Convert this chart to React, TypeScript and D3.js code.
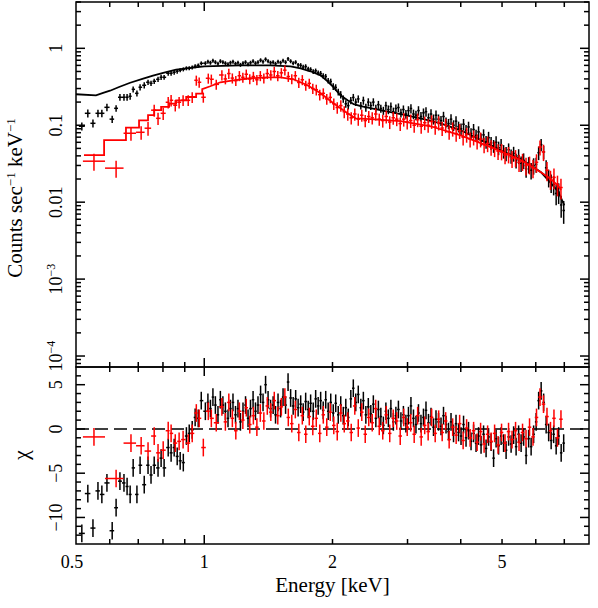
import React from "react";
import * as d3 from "d3";

// ---------------- data ----------------
const blackE = [
  0.516, 0.533, 0.548, 0.563, 0.575, 0.591, 0.608, 0.621, 0.634, 0.648, 0.659, 0.670, 0.681, 0.695, 0.707, 0.723, 0.738,
  0.750, 0.763, 0.779, 0.792, 0.805, 0.823, 0.836, 0.850, 0.864, 0.878, 0.893, 0.908, 0.922, 0.937, 0.952, 0.968, 0.984,
  1.006, 1.020, 1.034, 1.048, 1.062, 1.077, 1.091, 1.106, 1.121, 1.137,
  1.152, 1.168, 1.184, 1.200, 1.216, 1.233, 1.250, 1.267, 1.284, 1.302,
  1.319, 1.337, 1.356, 1.374, 1.393, 1.412, 1.431, 1.451, 1.470, 1.490,
  1.511, 1.531, 1.552, 1.573, 1.595, 1.617, 1.639, 1.661, 1.684, 1.707,
  1.730, 1.754, 1.777, 1.802, 1.826, 1.851, 1.876, 1.902, 1.928, 1.954,
  1.981, 2.008, 2.035, 2.063, 2.091, 2.120, 2.149, 2.178, 2.208, 2.238,
  2.268, 2.299, 2.331, 2.363, 2.395, 2.427, 2.460, 2.494, 2.528, 2.563,
  2.597, 2.633, 2.669, 2.705, 2.742, 2.779, 2.817, 2.856, 2.895, 2.934,
  2.974, 3.015, 3.056, 3.098, 3.140, 3.183, 3.226, 3.270, 3.315, 3.360,
  3.406, 3.452, 3.499, 3.547, 3.595, 3.644, 3.694, 3.744, 3.795, 3.847,
  3.899, 3.953, 4.006, 4.061, 4.116, 4.172, 4.229, 4.287, 4.345, 4.404,
  4.464, 4.525, 4.587, 4.649, 4.713, 4.777, 4.842, 4.908, 4.975, 5.042,
  5.111, 5.181, 5.251, 5.323, 5.395, 5.469, 5.543, 5.619, 5.695, 5.773,
  5.851, 5.931, 6.012, 6.094, 6.177, 6.261, 6.346, 6.433, 6.520, 6.609,
  6.699, 6.790, 6.883, 6.977,
];
const blackFlux = [
  0.097, 0.143, 0.106, 0.143, 0.143, 0.171, 0.12, 0.166, 0.231, 0.231, 0.231, 0.238, 0.293, 0.26, 0.312, 0.331, 0.362,
  0.351, 0.373, 0.396, 0.42, 0.42, 0.474, 0.474, 0.488, 0.503, 0.518, 0.533, 0.55, 0.55, 0.566, 0.584, 0.6, 0.638,
  0.64, 0.67, 0.65, 0.69, 0.66, 0.63, 0.68, 0.66, 0.64, 0.62,
  0.65, 0.67, 0.63, 0.65, 0.61, 0.64, 0.66, 0.62, 0.65, 0.68,
  0.64, 0.66, 0.70, 0.67, 0.72, 0.68, 0.65, 0.66, 0.63, 0.67,
  0.65, 0.69, 0.66, 0.73, 0.68, 0.64, 0.66, 0.61, 0.60, 0.57,
  0.58, 0.54, 0.53, 0.50, 0.51, 0.48, 0.47, 0.44, 0.43, 0.38,
  0.37, 0.32, 0.31, 0.27, 0.25, 0.22, 0.19, 0.18, 0.21, 0.23,
  0.20, 0.22, 0.18, 0.21, 0.17, 0.20, 0.18, 0.20, 0.165, 0.185,
  0.165, 0.155, 0.18, 0.16, 0.175, 0.15, 0.165, 0.17, 0.145, 0.16,
  0.14, 0.155, 0.165, 0.14, 0.135, 0.155, 0.13, 0.145, 0.15, 0.125,
  0.14, 0.12, 0.135, 0.12, 0.115, 0.13, 0.11, 0.105, 0.12, 0.1,
  0.113, 0.096, 0.09, 0.103, 0.086, 0.095, 0.078, 0.088, 0.074, 0.082,
  0.066, 0.075, 0.061, 0.069, 0.059, 0.054, 0.06, 0.051, 0.055, 0.046,
  0.043, 0.048, 0.04, 0.043, 0.035, 0.04, 0.032, 0.035, 0.027, 0.031,
  0.026, 0.03, 0.031, 0.044, 0.056, 0.045, 0.028, 0.021, 0.018, 0.017,
  0.013, 0.0135, 0.0092, 0.0078,
];
const blackErr = [
  0.12, 0.12, 0.12, 0.11, 0.11, 0.11, 0.11, 0.1, 0.1, 0.1, 0.1, 0.1, 0.09, 0.09, 0.09, 0.09, 0.08,
  0.08, 0.08, 0.08, 0.08, 0.07, 0.07, 0.07, 0.07, 0.07, 0.06, 0.06, 0.06, 0.06, 0.06, 0.06, 0.06, 0.06,
  0.06, 0.06, 0.06, 0.06, 0.06, 0.06, 0.06, 0.06, 0.06, 0.06,
  0.06, 0.06, 0.06, 0.06, 0.06, 0.06, 0.06, 0.06, 0.06, 0.06,
  0.06, 0.06, 0.06, 0.06, 0.06, 0.06, 0.06, 0.06, 0.06, 0.06,
  0.06, 0.06, 0.06, 0.06, 0.06, 0.06, 0.06, 0.06, 0.07, 0.07,
  0.07, 0.07, 0.07, 0.07, 0.07, 0.07, 0.08, 0.08, 0.08, 0.08,
  0.09, 0.1, 0.1, 0.1, 0.11, 0.11, 0.11, 0.11, 0.11, 0.11,
  0.11, 0.11, 0.11, 0.12, 0.12, 0.12, 0.12, 0.12, 0.12, 0.12,
  0.12, 0.12, 0.12, 0.13, 0.13, 0.13, 0.13, 0.13, 0.13, 0.13,
  0.13, 0.14, 0.14, 0.14, 0.14, 0.14, 0.14, 0.14, 0.14, 0.14,
  0.15, 0.15, 0.15, 0.15, 0.15, 0.15, 0.15, 0.15, 0.16, 0.16,
  0.16, 0.16, 0.17, 0.17, 0.17, 0.17, 0.17, 0.18, 0.18, 0.18,
  0.18, 0.18, 0.19, 0.19, 0.19, 0.19, 0.2, 0.2, 0.2, 0.2,
  0.21, 0.21, 0.21, 0.22, 0.22, 0.22, 0.23, 0.23, 0.23, 0.24,
  0.24, 0.24, 0.22, 0.2, 0.18, 0.2, 0.25, 0.26, 0.27, 0.28,
  0.3, 0.3, 0.32, 0.33,
];
const blackChi = [
  -11.8, -7.3, -11.2, -7.0, -7.4, -6.1, -11.5, -8.9, -5.9, -6.1, -6.5, -7.4, -4.4, -7.4, -4.1, -6.3, -4.1,
  -5.2, -4.1, -4.4, -3.3, -4.4, -2.1, -2.7, -2.1, -3.1, -3.6, -3.8, -0.8, -0.5, -0.1, 1.3, 1.2, 3.2,
  2.0, 3.0, 2.3, 3.6, 2.7, 1.6, 3.3, 2.7, 2.0, 1.2,
  2.3, 3.0, 1.6, 2.3, 0.8, 2.0, 2.7, 1.2, 2.3, 3.3,
  2.0, 2.7, 3.9, 3.0, 5.0, 3.3, 2.3, 2.7, 1.6, 3.0,
  2.3, 3.6, 2.7, 5.3, 3.5, 2.6, 3.4, 2.4, 2.8, 1.9,
  3.1, 2.2, 2.9, 2.0, 3.4, 2.6, 3.2, 2.1, 3.3, 2.0,
  3.0, 1.8, 2.9, 1.6, 2.7, 1.5, 2.4, 1.3, 3.4, 4.6,
  3.0, 3.9, 2.4, 3.2, 1.6, 2.5, 1.7, 2.8, 1.2, 2.2,
  1.4, 0.4, 2.0, 1.2, 2.3, 0.8, 1.5, 2.2, 0.9, 1.6,
  0.6, 1.5, 2.6, 1.2, 0.5, 1.8, 0.6, 1.3, 2.1, 0.7,
  1.4, 0.2, 1.1, 0.8, 0.3, 1.5, 0.5, -0.3, 0.8, -0.5,
  0.6, -0.4, -0.8, 0.5, -1.0, -0.2, -1.4, -0.5, -1.6, -0.8,
  -1.8, -0.6, -2.2, -0.9, -1.5, -3.3, -1.1, -1.9, -0.8, -1.6,
  -2.4, -0.9, -1.7, -0.7, -2.0, -0.6, -1.6, -0.9, -3.0, -1.1,
  -2.0, -0.6, 0.8, 3.2, 4.3, 3.0, 0.5, -0.4, -1.3, -0.6,
  -1.9, -0.8, -2.7, -1.6,
];

const redE = [
  0.551, 0.621, 0.673, 0.711, 0.738, 0.763, 0.779, 0.801, 0.823, 0.836, 0.855, 0.873, 0.892, 0.917, 0.937, 0.958,
  0.973, 0.995, 1.022, 1.039, 1.067,
  1.100, 1.121, 1.142, 1.164, 1.186, 1.209, 1.232, 1.255, 1.279, 1.304,
  1.329, 1.354, 1.380, 1.406, 1.433, 1.460, 1.488, 1.517, 1.546, 1.575,
  1.605, 1.636, 1.667, 1.699, 1.731, 1.764, 1.798, 1.832, 1.867, 1.903,
  1.939, 1.976, 2.014, 2.052, 2.092, 2.131, 2.172, 2.213, 2.256, 2.299,
  2.343, 2.387, 2.433, 2.479, 2.526, 2.575, 2.624, 2.674, 2.725, 2.777,
  2.830, 2.884, 2.939, 2.995, 3.052, 3.110, 3.169, 3.230, 3.292, 3.354,
  3.418, 3.484, 3.550, 3.618, 3.687, 3.757, 3.829, 3.902, 3.976, 4.052,
  4.129, 4.208, 4.288, 4.370, 4.453, 4.538, 4.625, 4.713, 4.803, 4.894,
  4.987, 5.082, 5.179, 5.278, 5.379, 5.481, 5.586, 5.692, 5.801, 5.911,
  6.024, 6.139, 6.256, 6.375, 6.497, 6.620, 6.747, 6.875,
];
const redFlux = [
  0.0341, 0.0277, 0.0787, 0.081, 0.0915, 0.157, 0.123, 0.143, 0.199, 0.211, 0.182, 0.199, 0.211, 0.211, 0.231, 0.384,
  0.362, 0.231, 0.408, 0.396, 0.34,
  0.45, 0.40, 0.47, 0.41, 0.38, 0.44, 0.42, 0.46, 0.40, 0.43,
  0.39, 0.44, 0.41, 0.47, 0.45, 0.50, 0.44, 0.48, 0.52, 0.43,
  0.40, 0.44, 0.36, 0.39, 0.33, 0.35, 0.30, 0.29, 0.25, 0.26,
  0.22, 0.23, 0.19, 0.17, 0.18, 0.15, 0.14, 0.125, 0.14, 0.12,
  0.135, 0.115, 0.13, 0.125, 0.14, 0.12, 0.115, 0.13, 0.11, 0.125,
  0.12, 0.105, 0.12, 0.11, 0.115, 0.10, 0.118, 0.097, 0.108, 0.1,
  0.112, 0.095, 0.108, 0.092, 0.1, 0.082, 0.09, 0.078, 0.085, 0.07,
  0.076, 0.066, 0.07, 0.062, 0.066, 0.056, 0.058, 0.052, 0.05, 0.046,
  0.046, 0.041, 0.042, 0.037, 0.038, 0.033, 0.034, 0.03, 0.031, 0.028,
  0.033, 0.052, 0.045, 0.026, 0.02, 0.021, 0.017, 0.0155,
];
const redErr = [
  0.25, 0.25, 0.2, 0.2, 0.2, 0.18, 0.18, 0.18, 0.17, 0.17, 0.17, 0.17, 0.16, 0.16, 0.16, 0.15,
  0.15, 0.15, 0.15, 0.15, 0.15,
  0.15, 0.15, 0.15, 0.15, 0.15, 0.15, 0.15, 0.15, 0.15, 0.15,
  0.15, 0.15, 0.15, 0.15, 0.15, 0.15, 0.15, 0.15, 0.15, 0.15,
  0.15, 0.15, 0.15, 0.15, 0.15, 0.15, 0.15, 0.16, 0.16, 0.16,
  0.16, 0.16, 0.17, 0.17, 0.17, 0.18, 0.18, 0.18, 0.18, 0.18,
  0.18, 0.18, 0.18, 0.18, 0.18, 0.18, 0.19, 0.19, 0.19, 0.19,
  0.19, 0.2, 0.2, 0.2, 0.2, 0.2, 0.2, 0.2, 0.2, 0.2,
  0.2, 0.21, 0.21, 0.21, 0.21, 0.21, 0.21, 0.22, 0.22, 0.22,
  0.22, 0.22, 0.22, 0.22, 0.22, 0.23, 0.23, 0.23, 0.23, 0.23,
  0.24, 0.24, 0.24, 0.25, 0.25, 0.25, 0.25, 0.26, 0.26, 0.27,
  0.27, 0.22, 0.24, 0.28, 0.28, 0.3, 0.3, 0.3,
];
const redChi = [
  -0.9, -5.6, -1.6, -1.9, -2.5, -0.8, -2.7, -2.4, -0.2, -0.5, -1.6, -1.4, -1.2, -1.6, -0.5, 1.8,
  1.2, -2.1, 2.0, 1.2, 0.7,
  2.5, 0.8, 3.0, 1.2, -0.2, 2.0, 1.0, 2.4, 0.5, 1.5,
  0.2, 1.8, 0.9, 2.6, 1.9, 3.2, 1.5, 2.5, 3.6, 1.3,
  0.6, 2.2, -0.4, 1.5, -0.6, 1.4, 0.3, 1.2, -0.5, 1.6,
  0.2, 1.9, 0.4, -0.3, 1.8, 0.6, 0.9, -0.4, 2.6, 0.1,
  1.9, -0.6, 1.3, 0.7, 2.3, 0.3, -0.2, 1.6, -0.5, 1.2,
  0.9, -0.8, 1.3, 0.2, 0.7, -0.6, 1.5, -0.9, 0.4, -0.3,
  1.3, -0.5, 1.1, -0.4, 0.9, -1.2, 0.2, -0.7, 0.6, -1.3,
  0.1, -1.0, -0.2, -1.5, -0.3, -1.7, -0.6, -1.4, -0.5, -1.8,
  -0.4, -1.6, -0.3, -1.2, -0.2, -1.5, -0.4, -1.1, 0.2, -0.9,
  1.3, 3.6, 2.8, 1.4, -0.2, 1.2, -1.0, 1.1,
];

// models
const blackModelE = [
  0.5, 0.557, 0.579, 0.601, 0.631, 0.67, 0.719, 0.758, 0.801, 0.859, 0.942, 1.0, 1.215, 1.43, 1.594, 1.683, 1.775,
  1.875, 1.947, 2.01, 2.088, 2.17, 2.243, 2.33, 2.59, 2.89, 3.22, 3.59, 4.0, 4.46, 4.97, 5.54, 5.84, 6.17, 6.51,
  6.78, 7.0,
];
const blackModelV = [
  0.253, 0.245, 0.263, 0.281, 0.314, 0.357, 0.404, 0.442, 0.478, 0.529, 0.561, 0.584, 0.6, 0.6, 0.584, 0.55, 0.503,
  0.446, 0.373, 0.312, 0.245, 0.211, 0.188, 0.177, 0.157, 0.139, 0.123, 0.106, 0.086, 0.064, 0.047, 0.036, 0.0302,
  0.0245, 0.0177, 0.0136, 0.0091,
];
const redStepEdges = [0.522, 0.582, 0.655, 0.703, 0.738, 0.763, 0.792, 0.827, 0.859, 0.907, 0.957, 0.989];
const redStepV = [0.0408, 0.064, 0.093, 0.116, 0.135, 0.157, 0.173, 0.191, 0.211, 0.233, 0.258];
const redModelE = [
  0.989, 1.033, 1.091, 1.17, 1.283, 1.406, 1.509, 1.619, 1.747, 1.875, 2.01, 2.17, 2.266, 2.456, 2.892, 3.398, 4.0,
  4.71, 5.54, 5.84, 6.17, 6.51, 6.78, 6.88,
];
const redModelV = [
  0.294, 0.321, 0.362, 0.384, 0.408, 0.42, 0.42, 0.396, 0.331, 0.26, 0.193, 0.143, 0.123, 0.12, 0.113, 0.097, 0.074,
  0.052, 0.035, 0.0295, 0.0245, 0.02, 0.0162, 0.0144,
];

// axes
const xTickLabels = [0.5, 1, 2, 5];
const xMajorTicks = [1];
const xMinorTicks = [0.6, 0.7, 0.8, 0.9, 2, 3, 4, 5, 6, 7];
const yTopDecades = [1e-4, 1e-3, 0.01, 0.1, 1];
const yTopLabels = ["10|−4", "10|−3", "0.01", "0.1", "1"];
const yBotMajor = [-10, -5, 0, 5];
const yBotLabels = ["−10", "−5", "0", "5"];

// ---------------- layout ----------------
const W = 598;
const H = 608;
const L = 76;
const R = 589;
const T1 = 2;
const B1 = 367;
const T2 = 367;
const B2 = 544;
const FONT = '"Liberation Serif", "DejaVu Serif", "Times New Roman", serif';
const RED = "#ff0000";

function binEdges(E: number[]) {
  const lo: number[] = [];
  const hi: number[] = [];
  for (let i = 0; i < E.length; i++) {
    const prev = i > 0 ? Math.sqrt(E[i - 1] * E[i]) : E[0] / Math.sqrt(E[1] / E[0]);
    const next = i < E.length - 1 ? Math.sqrt(E[i] * E[i + 1]) : E[i] * Math.sqrt(E[i] / E[i - 1]);
    lo.push(prev);
    hi.push(next);
  }
  return { lo, hi };
}

export default function App() {
  const x = d3.scaleLog().domain([0.5, 8]).range([L, R]);
  const yT = d3.scaleLog().domain([7.2e-5, 4]).range([B1, T1]);
  const yB = d3.scaleLinear().domain([-13, 7]).range([B2, T2]);

  const line = d3
    .line<[number, number]>()
    .x((d) => x(d[0]))
    .y((d) => yT(d[1]));

  const blackModel: [number, number][] = blackModelE.map((e, i) => [e, blackModelV[i]]);
  const redModel: [number, number][] = [];
  redStepV.forEach((v, i) => {
    redModel.push([redStepEdges[i], v]);
    redModel.push([redStepEdges[i + 1], v]);
  });
  redModelE.forEach((e, i) => redModel.push([e, redModelV[i]]));

  const renderSpectrum = (E: number[], F: number[], Er: number[], color: string, key: string) => {
    const { lo, hi } = binEdges(E);
    return (
      <g key={key} stroke={color} strokeWidth={1.5} fill="none">
        {E.map((e, i) => {
          const cx = x(e);
          const cy = yT(F[i]);
          return (
            <g key={i}>
              <line x1={x(lo[i])} x2={x(hi[i])} y1={cy} y2={cy} />
              <line x1={cx} x2={cx} y1={yT(F[i] * (1 - Er[i]))} y2={yT(F[i] * (1 + Er[i]))} />
            </g>
          );
        })}
      </g>
    );
  };

  const renderChi = (E: number[], C: number[], color: string, key: string) => {
    const { lo, hi } = binEdges(E);
    return (
      <g key={key} stroke={color} strokeWidth={1.5} fill="none">
        {E.map((e, i) => {
          const cx = x(e);
          const cy = yB(C[i]);
          return (
            <g key={i}>
              <line x1={x(lo[i])} x2={x(hi[i])} y1={cy} y2={cy} />
              <line x1={cx} x2={cx} y1={yB(C[i] - 1)} y2={yB(C[i] + 1)} />
            </g>
          );
        })}
      </g>
    );
  };

  // tick marks
  const tickEls: JSX.Element[] = [];
  const addX = (v: number, len: number) => {
    const px = x(v);
    tickEls.push(<line key={`xt1${v}`} x1={px} x2={px} y1={T1} y2={T1 + len} />);
    tickEls.push(<line key={`xb1${v}`} x1={px} x2={px} y1={B1} y2={B1 - len} />);
    tickEls.push(<line key={`xt2${v}`} x1={px} x2={px} y1={T2} y2={T2 + len} />);
    tickEls.push(<line key={`xb2${v}`} x1={px} x2={px} y1={B2} y2={B2 - len} />);
  };
  xMajorTicks.forEach((v) => addX(v, 9));
  xMinorTicks.forEach((v) => addX(v, 5));

  const addYT = (v: number, len: number, k: string) => {
    const py = yT(v);
    if (py < T1 || py > B1) return;
    tickEls.push(<line key={`yl${k}`} x1={L} x2={L + len} y1={py} y2={py} />);
    tickEls.push(<line key={`yr${k}`} x1={R} x2={R - len} y1={py} y2={py} />);
  };
  yTopDecades.forEach((d, i) => {
    addYT(d, 9, `M${i}`);
    for (let m = 2; m <= 9; m++) addYT(d * m, 5, `m${i}_${m}`);
  });
  const eDec = 1e-5;
  for (let m = 7; m <= 9; m++) addYT(eDec * m, 5, `e${m}`);

  const addYB = (v: number, len: number, k: string) => {
    const py = yB(v);
    tickEls.push(<line key={`bl${k}`} x1={L} x2={L + len} y1={py} y2={py} />);
    tickEls.push(<line key={`br${k}`} x1={R} x2={R - len} y1={py} y2={py} />);
  };
  for (let v = -12; v <= 6; v++) {
    addYB(v, yBotMajor.includes(v) ? 9 : 5, `${v}`);
  }

  const txtStyle = (size: number) => ({ fontFamily: FONT, fontSize: `${size}px` });

  const rotLabel = (key: string, px: number, py: number, content: React.ReactNode, size = 18) => (
    <text
      key={key}
      transform={`translate(${px},${py}) rotate(-90)`}
      textAnchor="middle"
      style={txtStyle(size)}
      fill="#000"
    >
      {content}
    </text>
  );

  return (
    <svg
      width={W}
      height={H}
      style={{ position: "absolute", left: 0, top: 0, background: "#fff" }}
      xmlns="http://www.w3.org/2000/svg"
    >
      <defs>
        <clipPath id="clipTop">
          <rect x={L} y={T1} width={R - L} height={B1 - T1} />
        </clipPath>
        <clipPath id="clipBot">
          <rect x={L} y={T2} width={R - L} height={B2 - T2} />
        </clipPath>
      </defs>
      <rect x={0} y={0} width={W} height={H} fill="#fff" />

      {/* top panel */}
      <g clipPath="url(#clipTop)">
        {renderSpectrum(blackE, blackFlux, blackErr, "#000", "bs")}
        <path d={line(blackModel) || ""} fill="none" stroke="#000" strokeWidth={1.8} />
        {renderSpectrum(redE, redFlux, redErr, RED, "rs")}
        <path d={line(redModel) || ""} fill="none" stroke={RED} strokeWidth={1.8} />
      </g>

      {/* bottom panel */}
      <g clipPath="url(#clipBot)">
        <line x1={L} x2={R} y1={yB(0)} y2={yB(0)} stroke="#000" strokeWidth={1.5} strokeDasharray="13,6" />
        {renderChi(blackE, blackChi, "#000", "bc")}
        {renderChi(redE, redChi, RED, "rc")}
      </g>

      {/* frames & ticks */}
      <g stroke="#000" strokeWidth={1.5} fill="none">
        <rect x={L} y={T1} width={R - L} height={B1 - T1} />
        <rect x={L} y={T2} width={R - L} height={B2 - T2} />
        {tickEls}
      </g>

      {/* x tick labels */}
      {xTickLabels.map((v) => (
        <text
          key={`xl${v}`}
          x={v === 0.5 ? x(v) - 4 : x(v)}
          y={568}
          textAnchor="middle"
          style={txtStyle(18)}
          fill="#000"
        >
          {String(v)}
        </text>
      ))}

      {/* y top labels */}
      {yTopDecades.map((d, i) => {
        const lab = yTopLabels[i];
        const parts = lab.split("|");
        const content =
          parts.length > 1 ? (
            <>
              {parts[0]}
              <tspan dy={-7} style={{ fontSize: "12px" }}>
                {parts[1]}
              </tspan>
            </>
          ) : (
            lab
          );
        return rotLabel(`yt${i}`, 62, yT(d), content);
      })}

      {/* y bottom labels */}
      {yBotMajor.map((v, i) => rotLabel(`yb${i}`, 62, yB(v), yBotLabels[i]))}

      {/* axis titles */}
      {rotLabel(
        "ytitle",
        22,
        198,
        <>
          Counts sec
          <tspan dy={-7} style={{ fontSize: "13px" }}>
            −1
          </tspan>
          <tspan dy={7}> keV</tspan>
          <tspan dy={-7} style={{ fontSize: "13px" }}>
            −1
          </tspan>
        </>,
        21
      )}
      {rotLabel("chi", 28, 455, "χ", 22)}
      <text x={(L + R) / 2} y={592} textAnchor="middle" style={txtStyle(21)} fill="#000">
        Energy [keV]
      </text>
    </svg>
  );
}
